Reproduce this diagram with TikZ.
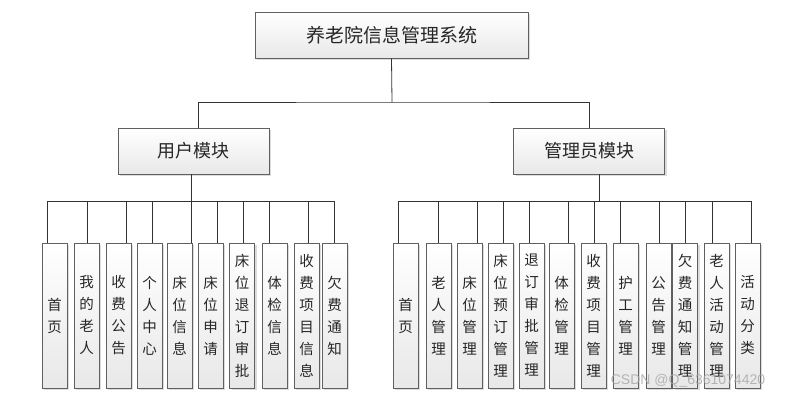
\documentclass[tikz,border=0pt]{standalone}
\usepackage{fontspec}
\newfontfamily\cjk{Noto Sans CJK SC}
\newfontfamily\wm{Liberation Sans}
\usetikzlibrary{shadows}
\tikzset{
  boxbase/.style={draw=gray!75!black, line width=0.9pt, top color=white, bottom color=gray!18,
    drop shadow={shadow xshift=2pt, shadow yshift=-2pt, fill=gray!45, opacity=0.6},
    inner sep=0pt, text=black!85, font=\cjk},
  topbox/.style={boxbase, minimum width=273pt, minimum height=46pt, font=\cjk\fontsize{19}{22}\selectfont},
  modbox/.style={boxbase, minimum width=151pt, minimum height=46pt, font=\cjk\fontsize{18}{22}\selectfont},
  leafbox/.style={boxbase, minimum width=25pt, minimum height=145pt, align=center,
    font=\cjk\fontsize{14.5}{22}\selectfont},
  conn/.style={draw=black!80, line width=0.8pt}
}
\begin{document}
\begin{tikzpicture}[x=1pt,y=-1pt]
\useasboundingbox (0,0) rectangle (791,402);
\fill[white] (0,0) rectangle (791,402);

\node[topbox] (main) at (391.5,35) {养老院信息管理系统};
\node[modbox] (user) at (193.5,151) {用户模块};
\node[modbox] (mgr) at (589,151) {管理员模块};

\coordinate (tbus) at (392,102);
\draw[conn] (main.south) -- (tbus);
\draw[conn] ([xshift=4.5pt]user.north) |- (tbus) -| (mgr.north);

% user leaves
\coordinate (ubusL) at (47,201);
\coordinate (ubusR) at (334,201);
\draw[conn] ([xshift=-2.5pt]user.south) -- ([xshift=-2.5pt]user.south |- ubusL);
\draw[conn] (ubusL) -- (ubusR);
\foreach \c/\d/\t [count=\i] in {
  54.5/-7.5/{首\\页},
  86.5/0.5/{我\\的\\老\\人},
  118.5/7.5/{收\\费\\公\\告},
  149.5/2.5/{个\\人\\中\\心},
  179.5/11.5/{床\\位\\信\\息},
  210.5/6.5/{床\\位\\申\\请},
  242/1/{床\\位\\退\\订\\审\\批},
  274.5/-5.5/{体\\检\\信\\息},
  306.5/1.5/{收\\费\\项\\目\\信\\息},
  334.5/-0.5/{欠\\费\\通\\知}}{
  \node[leafbox] (u\i) at (\c,315.5) {\t};
  \draw[conn] ([xshift=\d pt]u\i.north) -- ([xshift=\d pt]u\i.north |- ubusL);
}

% manager leaves
\coordinate (mbusL) at (398,201);
\coordinate (mbusR) at (751,201);
\draw[conn] ([xshift=10pt]mgr.south) -- ([xshift=10pt]mgr.south |- mbusL);
\draw[conn] (mbusL) -- (mbusR);
\foreach \c/\d/\t [count=\i] in {
  405.5/-7.5/{首\\页},
  438.5/-0.5/{老\\人\\管\\理},
  469.5/7.5/{床\\位\\管\\理},
  500.5/2.5/{床\\位\\预\\订\\管\\理},
  531.5/-2.5/{退\\订\\审\\批\\管\\理},
  561.5/6.5/{体\\检\\管\\理},
  593.5/0.5/{收\\费\\项\\目\\管\\理},
  625.5/-5.5/{护\\工\\管\\理},
  658.5/0.5/{公\\告\\管\\理},
  685/0/{欠\\费\\通\\知\\管\\理},
  716.5/-4.5/{老\\人\\活\\动\\管\\理},
  747.5/3.5/{活\\动\\分\\类}}{
  \node[leafbox] (m\i) at (\c,315.5) {\t};
  \draw[conn] ([xshift=\d pt]m\i.north) -- ([xshift=\d pt]m\i.north |- mbusL);
}

\node[text=gray!70, opacity=0.8, font=\wm\fontsize{14}{16}\selectfont, inner sep=0pt] (wmk) at (688,381) {CSDN @Q\_6361074420};
\end{tikzpicture}
\end{document}
